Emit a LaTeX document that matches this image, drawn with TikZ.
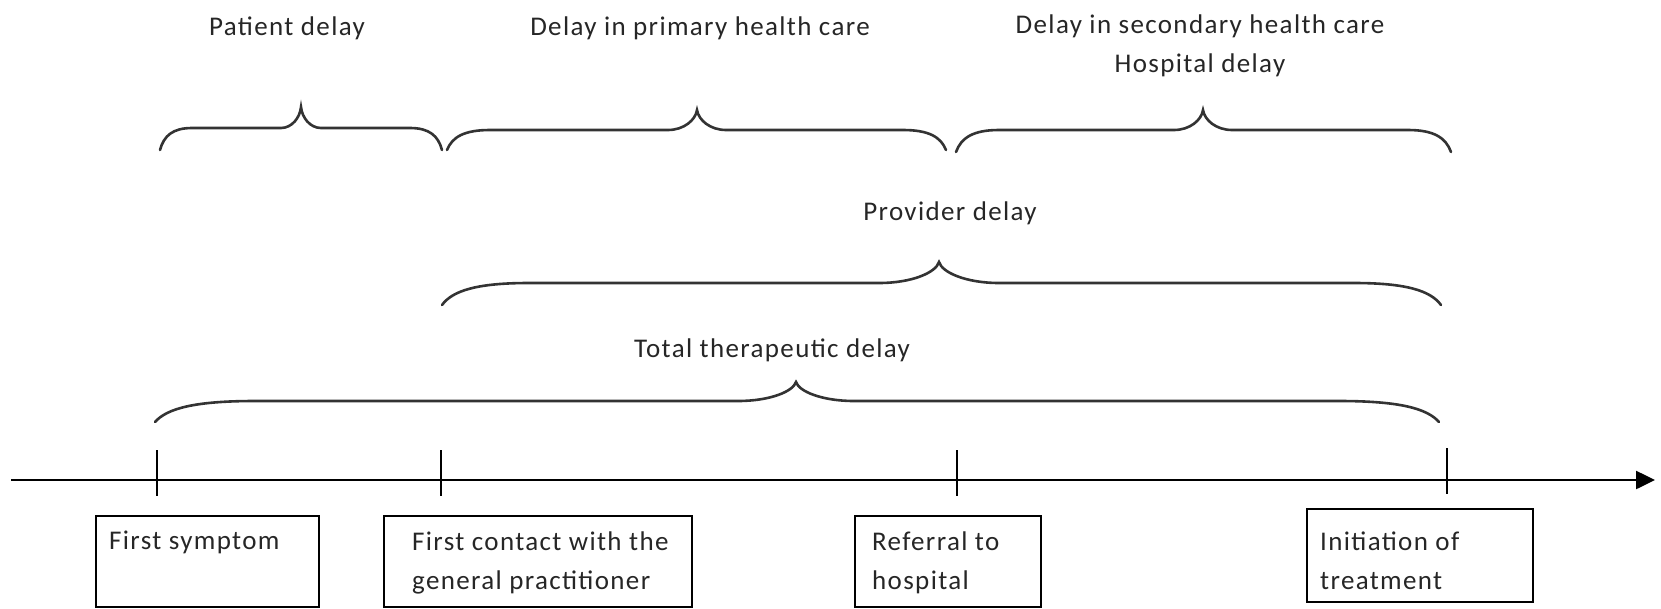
\documentclass[tikz,border=0pt]{standalone}
\usepackage{fontspec}
\setmainfont{Carlito}[LetterSpace=5.0]
\usetikzlibrary{arrows.meta}
% #1 xL, #2 xR, #3 xTip, #4 yEnd, #5 yHoriz, #6 yTip, #7 end span, #8 cusp half-width
\newcommand{\drawbrace}[8]{%
  \draw[bracestyle] (#1,#4) .. controls ({#1+0.12*#7},{#5+0.35*(#4-#5)}) and ({#1+0.4*#7},#5) .. ({#1+#7},#5)
    -- ({#3-#8},#5) .. controls ({#3-0.45*#8},#5) and ({#3-0.05*#8},{#6+0.5*(#5-#6)}) .. (#3,#6)
    .. controls ({#3+0.05*#8},{#6+0.5*(#5-#6)}) and ({#3+0.45*#8},#5) .. ({#3+#8},#5)
    -- ({#2-#7},#5) .. controls ({#2-0.4*#7},#5) and ({#2-0.12*#7},{#5+0.35*(#4-#5)}) .. (#2,#4);}
\begin{document}
\begin{tikzpicture}[x=1pt,y=-1pt,
  txt/.style={font=\fontsize{27pt}{39pt}\selectfont, inner sep=0pt, text=black!85},
  boxstyle/.style={draw=black, line width=2pt, anchor=north west, inner sep=0pt},
  bracestyle/.style={line width=2.6pt, black!80, line cap=round},
  axisline/.style={line width=2.5pt, -{Triangle[length=19pt,width=18pt]}},
  tickline/.style={line width=2pt}]
\useasboundingbox (0,0) rectangle (1661,608);

% top labels
\node[txt, anchor=base] (lpat) at (287,35) {Patient delay};
\node[txt, anchor=base] (lprim) at (700,35) {Delay in primary health care};
\node[txt, anchor=base] (lsec) at (1200,33) {\begin{tabular}[t]{@{}c@{}}Delay in secondary health care\\Hospital delay\end{tabular}};
\node[txt, anchor=base] (lprov) at (950,220) {Provider delay};
\node[txt, anchor=base] (ltot) at (772,357) {Total therapeutic delay};

% braces
\drawbrace{160}{442}{301}{150}{128}{107}{32}{20}
\drawbrace{447}{946}{697}{150}{130}{110}{43}{29}
\drawbrace{956}{1451}{1203}{152}{130}{110}{43}{29}
\drawbrace{442}{1441}{939}{305}{283}{262}{87}{60}
\drawbrace{155}{1439}{796}{422}{401}{382}{100}{58}

% axis
\coordinate (axL) at (11,480);
\coordinate (axR) at (1655,480);
\draw[axisline] (axL) -- (axR);

% ticks
\coordinate (k1a) at (157,450); \coordinate (k1b) at (157,496);
\coordinate (k2a) at (441,450); \coordinate (k2b) at (441,496);
\coordinate (k3a) at (957,450); \coordinate (k3b) at (957,496);
\coordinate (k4a) at (1447,448); \coordinate (k4b) at (1447,494);
\draw[tickline] (k1a) -- (k1b);
\draw[tickline] (k2a) -- (k2b);
\draw[tickline] (k3a) -- (k3b);
\draw[tickline] (k4a) -- (k4b);

% boxes
\node[boxstyle, minimum width=223pt, minimum height=91pt] (b1) at (95,515) {};
\node[boxstyle, minimum width=308pt, minimum height=91pt] (b2) at (383,515) {};
\node[boxstyle, minimum width=186pt, minimum height=91pt] (b3) at (854,515) {};
\node[boxstyle, minimum width=226pt, minimum height=93pt] (b4) at (1306,508) {};

\node[txt, anchor=base west] (t1) at (109,549) {First symptom};
\node[txt, anchor=base west] (t2) at (412,550) {\begin{tabular}[t]{@{}l@{}}First contact with the\\general practitioner\end{tabular}};
\node[txt, anchor=base west] (t3) at (872,550) {\begin{tabular}[t]{@{}l@{}}Referral to\\hospital\end{tabular}};
\node[txt, anchor=base west] (t4) at (1320,550) {\begin{tabular}[t]{@{}l@{}}Initiation of\\treatment\end{tabular}};
\end{tikzpicture}
\end{document}
